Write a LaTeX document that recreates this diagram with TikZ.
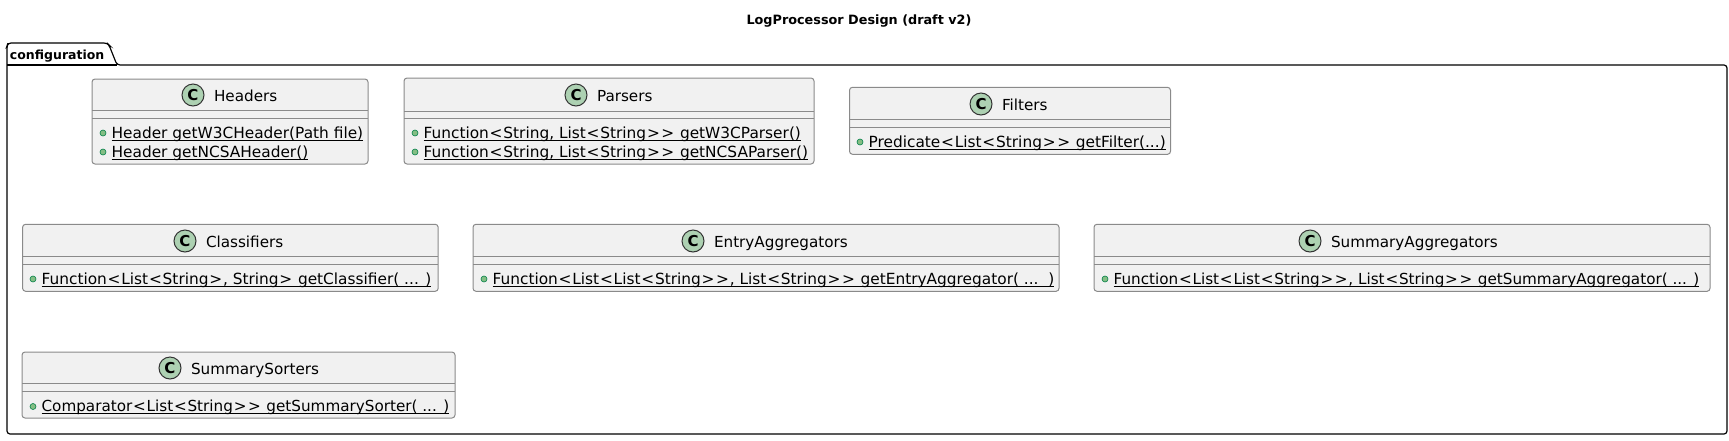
\documentclass[tikz,border=0pt]{standalone}
\usepackage{fontspec}
\setmainfont{DejaVu Sans}
\usetikzlibrary{positioning}
\definecolor{boxfill}{HTML}{F1F1F1}
\definecolor{boxline}{HTML}{8A8A8A}
\definecolor{spotfill}{HTML}{ADD1B2}
\definecolor{dotfill}{HTML}{84BE84}
\definecolor{dotline}{HTML}{038048}
% underline at a fixed distance below the baseline
\newcommand{\staticline}[1]{\setbox0\hbox{#1}\rlap{\rule[-1.4pt]{\wd0}{0.5pt}}\box0}
\newcommand{\la}{\kern0.4pt<\kern0.4pt}
\newcommand{\ra}{\kern0.4pt>\kern0.4pt}
\tikzset{
    every node/.style={inner sep=0pt, outer sep=0pt},
    package/.style={
                draw=black,
                line width=0.6pt,
                rounded corners=1.5pt
            },
    classbox/.style={
                draw=boxline,
                fill=boxfill,
                line width=0.5pt,
                rounded corners=1.5pt
            },
    separator/.style={
                draw=boxline,
                line width=0.5pt
            },
    spot/.style={
                circle,
                draw=black!80,
                fill=spotfill,
                line width=0.5pt,
                minimum size=11pt,
                font=\fontsize{7.5}{9}\selectfont\bfseries
            },
    classname/.style={
                right=5pt of #1,
                text height=6pt,
                text depth=0pt,
                font=\fontsize{7.6}{9}\selectfont
            },
    dot/.style={
                circle,
                draw=dotline,
                fill=dotfill,
                line width=0.3pt,
                minimum size=3pt
            },
    method/.style={
                right=2.8pt of #1,
                text height=5pt,
                text depth=0pt,
                font=\fontsize{7.68}{9}\selectfont
            },
}
\begin{document}
\begin{tikzpicture}[x=0.5pt,y=-0.5pt]
  \useasboundingbox (0,0) rectangle (1729,440);
  % Title
  \node[text height=5pt, text depth=0pt, font=\fontsize{6.4}{9}\selectfont\bfseries] (title) at (859,19) {LogProcessor Design (draft v2)};
  % Package
  \draw[package] (7,65) -- (7,46) -- (8,43) -- (107,43) -- (109,45) -- (117,65) -- (1727,65) -- (1727,434) -- (7,434) -- cycle;
  \draw[package] (7,65) -- (117,65);
  \node[anchor=west, text height=5pt, text depth=0pt, font=\fontsize{6.25}{9}\selectfont\bfseries] (pkgname) at (10,54) {configuration};
  % Headers
  \node[classbox, minimum width=138pt, minimum height=42.5pt] (headers) at (230,121.5) {};
  \draw[separator] ([yshift=-15.5pt]headers.north west) -- ([yshift=-15.5pt]headers.north east);
  \draw[separator] ([yshift=-19.5pt]headers.north west) -- ([yshift=-19.5pt]headers.north east);
  \node[spot] (headersspot) at (193,95) {C};
  \node[classname=headersspot] (headersname) {Headers};
  \node[dot] (headersdota) at (103,133) {};
  \node[method=headersdota] (headersa) {\staticline{Header getW3CHeader(Path file)}};
  \node[dot] (headersdotb) at (103,152) {};
  \node[method=headersdotb] (headersb) {\staticline{Header getNCSAHeader()}};
  % Parsers
  \node[classbox, minimum width=205pt, minimum height=43pt] (parsers) at (609,121) {};
  \draw[separator] ([yshift=-16.5pt]parsers.north west) -- ([yshift=-16.5pt]parsers.north east);
  \draw[separator] ([yshift=-20pt]parsers.north west) -- ([yshift=-20pt]parsers.north east);
  \node[spot] (parsersspot) at (576,95) {C};
  \node[classname=parsersspot] (parsersname) {Parsers};
  \node[dot] (parsersdota) at (415,133) {};
  \node[method=parsersdota] (parsersa) {\staticline{Function\la String, List\la String\ra\ra\ getW3CParser()}};
  \node[dot] (parsersdotb) at (415,152) {};
  \node[method=parsersdotb] (parsersb) {\staticline{Function\la String, List\la String\ra\ra\ getNCSAParser()}};
  % Filters
  \node[classbox, minimum width=160.5pt, minimum height=33.5pt] (filters) at (1010,120.8) {};
  \draw[separator] ([yshift=-16pt]filters.north west) -- ([yshift=-16pt]filters.north east);
  \draw[separator] ([yshift=-20pt]filters.north west) -- ([yshift=-20pt]filters.north east);
  \node[spot] (filtersspot) at (981,104) {C};
  \node[classname=filtersspot] (filtersname) {Filters};
  \node[dot] (filtersdot) at (860,142) {};
  \node[method=filtersdot] (filtersa) {\staticline{Predicate\la List\la String\ra\ra\ getFilter(...)}};
  % Classifiers
  \node[classbox, minimum width=207.8pt, minimum height=33.5pt] (classifiers) at (230.4,257.8) {};
  \draw[separator] ([yshift=-16pt]classifiers.north west) -- ([yshift=-16pt]classifiers.north east);
  \draw[separator] ([yshift=-20pt]classifiers.north west) -- ([yshift=-20pt]classifiers.north east);
  \node[spot] (classifiersspot) at (185,241) {C};
  \node[classname=classifiersspot] (classifiersname) {Classifiers};
  \node[dot] (classifiersdot) at (33,279) {};
  \node[method=classifiersdot] (classifiersa) {\staticline{Function\la List\la String\ra, String\ra\ getClassifier( ... )}};
  % EntryAggregators
  \node[classbox, minimum width=293pt, minimum height=33.5pt] (entry) at (766,257.8) {};
  \draw[separator] ([yshift=-16pt]entry.north west) -- ([yshift=-16pt]entry.north east);
  \draw[separator] ([yshift=-20pt]entry.north west) -- ([yshift=-20pt]entry.north east);
  \node[spot] (entryspot) at (693,241) {C};
  \node[classname=entryspot] (entryname) {EntryAggregators};
  \node[dot] (entrydot) at (484,279) {};
  \node[method=entrydot] (entrya) {\staticline{Function\la List\la List\la String\ra\ra, List\la String\ra\ra\ getEntryAggregator( ...\ \ )}};
  % SummaryAggregators
  \node[classbox, minimum width=308pt, minimum height=33.5pt] (summaryagg) at (1402,257.8) {};
  \draw[separator] ([yshift=-16pt]summaryagg.north west) -- ([yshift=-16pt]summaryagg.north east);
  \draw[separator] ([yshift=-20pt]summaryagg.north west) -- ([yshift=-20pt]summaryagg.north east);
  \node[spot] (summaryaggspot) at (1310,241) {C};
  \node[classname=summaryaggspot] (summaryaggname) {SummaryAggregators};
  \node[dot] (summaryaggdot) at (1105,279) {};
  \node[method=summaryaggdot, font=\fontsize{7.6}{9}\selectfont] (summaryagga) {\staticline{Function\la List\la List\la String\ra\ra, List\la String\ra\ra\ getSummaryAggregator( ... )}};
  % SummarySorters
  \node[classbox, minimum width=216.5pt, minimum height=33pt] (sorters) at (238.5,385) {};
  \draw[separator] ([yshift=-15.5pt]sorters.north west) -- ([yshift=-15.5pt]sorters.north east);
  \draw[separator] ([yshift=-19.5pt]sorters.north west) -- ([yshift=-19.5pt]sorters.north east);
  \node[spot] (sortersspot) at (170,368) {C};
  \node[classname=sortersspot] (sortersname) {SummarySorters};
  \node[dot] (sortersdot) at (33,406.5) {};
  \node[method=sortersdot, font=\fontsize{7.6}{9}\selectfont] (sortersa) {\staticline{Comparator\la List\la String\ra\ra\ getSummarySorter( ... )}};
\end{tikzpicture}
\end{document}
